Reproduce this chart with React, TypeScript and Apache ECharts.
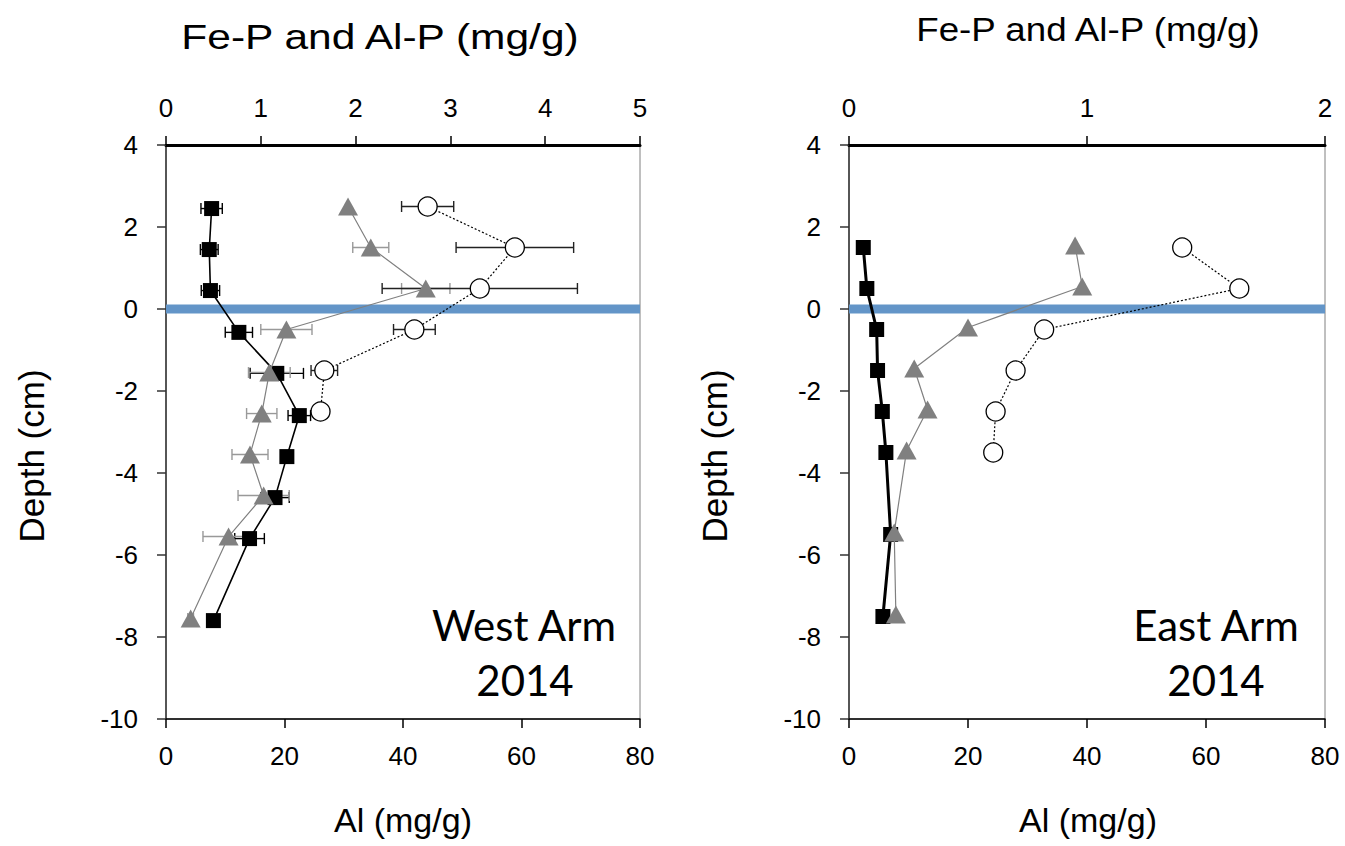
import React, { useEffect, useRef } from "react";
import * as echarts from "echarts";

// ---------- West Arm 2014 ----------
// black squares: Al (bottom axis, mg/g)
const westAlDepth = [2.45, 1.45, 0.45, -0.57, -1.57, -2.6, -3.6, -4.6, -5.6, -7.6];
const westAl = [7.7, 7.3, 7.5, 12.3, 18.7, 22.5, 20.4, 18.4, 14.1, 8.0];
const westAlErr = [1.8, 1.5, 1.55, 2.3, 4.5, 1.9, 0, 2.4, 2.5, 0];
// grey triangles: Al-P (top axis, mg/g)
const westAlPDepth = [2.5, 1.5, 0.5, -0.5, -1.55, -2.55, -3.55, -4.55, -5.55, -7.55];
const westAlP = [1.92, 2.16, 2.74, 1.27, 1.09, 1.01, 0.886, 1.03, 0.66, 0.26];
const westAlPErr = [0, 0.19, 0.255, 0.27, 0.22, 0.16, 0.19, 0.27, 0.27, 0.03];
// open circles: Fe-P (top axis, mg/g)
const westFePDepth = [2.5, 1.5, 0.5, -0.5, -1.5, -2.5];
const westFeP = [2.76, 3.68, 3.31, 2.62, 1.67, 1.63];
const westFePErr = [0.275, 0.62, 1.03, 0.22, 0.14, 0];

// ---------- East Arm 2014 ----------
const eastAlDepth = [1.5, 0.5, -0.5, -1.5, -2.5, -3.5, -5.5, -7.5];
const eastAl = [2.4, 3.0, 4.65, 4.8, 5.6, 6.2, 7.0, 5.7];
const eastAlPDepth = [1.55, 0.55, -0.45, -1.45, -2.45, -3.45, -5.45, -7.45];
const eastAlP = [0.95, 0.98, 0.5, 0.274, 0.33, 0.242, 0.19, 0.197];
const eastFePDepth = [1.5, 0.5, -0.5, -1.5, -2.5, -3.5];
const eastFeP = [1.4, 1.64, 0.82, 0.7, 0.616, 0.606];

// sediment-water interface
const surfaceX = [0, 80];
const surfaceDepth = [0, 0];

// axes
const depthMin = -10, depthMax = 4, depthStep = 2;
const alMin = 0, alMax = 80, alStep = 20;
const westTopMax = 5, eastTopMax = 2, topStep = 1;

const FONT = "'Liberation Sans', Arial, sans-serif";
const CAL = "Lato, 'Open Sans', sans-serif";

const pairs = (xs: number[], ys: number[]) => xs.map((x, i) => [x, ys[i]]);
const errRows = (xs: number[], ys: number[], es: number[]) =>
  xs.map((x, i) => [ys[i], x - es[i], x + es[i], es[i]]).filter((r) => r[3] > 0);

function errSeries(data: number[][], xAxisIndex: number, yAxisIndex: number, color: string) {
  return {
    type: "custom",
    xAxisIndex,
    yAxisIndex,
    z: 3,
    silent: true,
    encode: { x: [1, 2], y: 0 },
    data,
    renderItem: (params: any, api: any) => {
      const y = api.value(0);
      const p1 = api.coord([api.value(1), y]);
      const p2 = api.coord([api.value(2), y]);
      const h = 5.5;
      const style = { stroke: color, lineWidth: 1.4 };
      return {
        type: "group",
        children: [
          { type: "line", shape: { x1: p1[0], y1: p1[1], x2: p2[0], y2: p2[1] }, style },
          { type: "line", shape: { x1: p1[0], y1: p1[1] - h, x2: p1[0], y2: p1[1] + h }, style },
          { type: "line", shape: { x1: p2[0], y1: p2[1] - h, x2: p2[0], y2: p2[1] + h }, style },
        ],
      };
    },
  };
}

function bottomAxis(gridIndex: number) {
  return {
    type: "value",
    gridIndex,
    position: "bottom",
    min: alMin,
    max: alMax,
    interval: alStep,
    axisLine: { show: true, onZero: false, lineStyle: { color: "#000", width: 1.5 } },
    axisTick: { show: true, inside: false, length: 9, lineStyle: { color: "#000", width: 1.5 } },
    axisLabel: { margin: 24, fontSize: 26, color: "#000", fontFamily: FONT },
    splitLine: { show: false },
  };
}
function topAxis(gridIndex: number, max: number) {
  return {
    type: "value",
    gridIndex,
    position: "top",
    min: 0,
    max,
    interval: topStep,
    axisLine: { show: true, onZero: false, lineStyle: { color: "#000", width: 3 } },
    axisTick: { show: true, inside: false, length: 9, lineStyle: { color: "#000", width: 1.5 } },
    axisLabel: { margin: 24, fontSize: 26, color: "#000", fontFamily: FONT },
    splitLine: { show: false },
  };
}
function depthAxis(gridIndex: number) {
  return {
    type: "value",
    gridIndex,
    min: depthMin,
    max: depthMax,
    interval: depthStep,
    axisLine: { show: true, onZero: false, lineStyle: { color: "#333", width: 1.5 } },
    axisTick: { show: true, inside: false, length: 9, lineStyle: { color: "#333", width: 1.5 } },
    axisLabel: { margin: 28, fontSize: 26, color: "#000", fontFamily: FONT },
    splitLine: { show: false },
  };
}

const squareSeries = (xs: number[], ys: number[], xi: number, yi: number, w: number) => ({
  type: "line",
  xAxisIndex: xi,
  yAxisIndex: yi,
  z: 4,
  data: pairs(xs, ys),
  symbol: "rect",
  symbolSize: 15,
  itemStyle: { color: "#000" },
  lineStyle: { color: "#000", width: w },
});
const triSeries = (xs: number[], ys: number[], xi: number, yi: number) => ({
  type: "line",
  xAxisIndex: xi,
  yAxisIndex: yi,
  z: 5,
  data: pairs(xs, ys),
  symbol: "triangle",
  symbolSize: [20, 18],
  itemStyle: { color: "#808080" },
  lineStyle: { color: "#808080", width: 1.2 },
});
const circSeries = (xs: number[], ys: number[], xi: number, yi: number) => ({
  type: "line",
  xAxisIndex: xi,
  yAxisIndex: yi,
  z: 6,
  data: pairs(xs, ys),
  symbol: "circle",
  symbolSize: 19,
  itemStyle: { color: "#fff", borderColor: "#000", borderWidth: 1.3 },
  lineStyle: { color: "#000", width: 1.2, type: [2, 2] },
});
const surfaceSeries = (xi: number, yi: number) => ({
  type: "line",
  xAxisIndex: xi,
  yAxisIndex: yi,
  z: 2,
  silent: true,
  data: pairs(surfaceX, surfaceDepth),
  symbol: "none",
  lineStyle: { color: "#6395C8", width: 9 },
});

const txt = (text: string, x: number, y: number, font: string, extra: any = {}) => ({
  type: "text",
  x,
  y,
  ...extra,
  style: { text, font, fill: "#000", textAlign: "center", textVerticalAlign: "middle" },
});

export default function App() {
  const ref = useRef<HTMLDivElement>(null);
  useEffect(() => {
    if (!ref.current) return;
    const chart = echarts.init(ref.current, null, { renderer: "svg" });
    const option = {
      animation: false,
      backgroundColor: "#fff",
      grid: [
        { left: 166, top: 145, width: 474, height: 574, show: true, borderColor: "#808080", borderWidth: 1 },
        { left: 849, top: 145, width: 476, height: 574, show: true, borderColor: "#808080", borderWidth: 1 },
      ],
      xAxis: [bottomAxis(0), topAxis(0, westTopMax), bottomAxis(1), topAxis(1, eastTopMax)],
      yAxis: [depthAxis(0), depthAxis(1)],
      series: [
        surfaceSeries(0, 0),
        surfaceSeries(2, 1),
        errSeries(errRows(westAl, westAlDepth, westAlErr), 0, 0, "#000"),
        errSeries(errRows(westAlP, westAlPDepth, westAlPErr), 1, 0, "#999"),
        errSeries(errRows(westFeP, westFePDepth, westFePErr), 1, 0, "#222"),
        squareSeries(westAl, westAlDepth, 0, 0, 1.6),
        triSeries(westAlP, westAlPDepth, 1, 0),
        circSeries(westFeP, westFePDepth, 1, 0),
        squareSeries(eastAl, eastAlDepth, 2, 1, 3),
        triSeries(eastAlP, eastAlPDepth, 3, 1),
        circSeries(eastFeP, eastFePDepth, 3, 1),
      ],
      graphic: [
        txt("Fe-P and Al-P (mg/g)", 380, 36, `36px ${FONT}`, { scaleX: 1.18 }),
        txt("Fe-P and Al-P (mg/g)", 1088, 29, `34px ${FONT}`, { scaleX: 1.08 }),
        txt("Al (mg/g)", 403, 820, `34px ${FONT}`),
        txt("Al (mg/g)", 1088, 820, `34px ${FONT}`),
        txt("Depth (cm)", 31, 456, `35px ${FONT}`, { rotation: Math.PI / 2 }),
        txt("Depth (cm)", 714, 456, `35px ${FONT}`, { rotation: Math.PI / 2 }),
        txt("West Arm", 524, 625, `42px ${CAL}`),
        txt("2014", 525, 680, `42px ${CAL}`),
        txt("East Arm", 1216, 625, `42px ${CAL}`),
        txt("2014", 1216, 680, `42px ${CAL}`),
      ],
    };
    chart.setOption(option as any);
    return () => chart.dispose();
  }, []);
  return (
    <div
      ref={ref}
      style={{ position: "absolute", left: 0, top: 0, width: 1345, height: 846, background: "#fff" }}
    />
  );
}
